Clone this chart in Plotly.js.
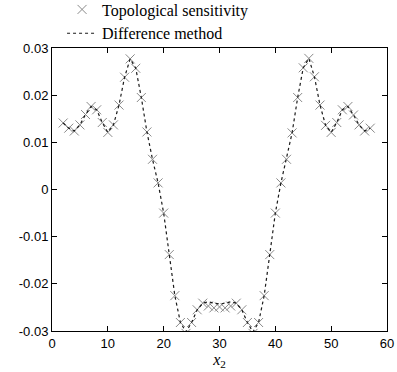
<!DOCTYPE html>
<html>
<head>
<meta charset="utf-8">
<script src="https://cdn.plot.ly/plotly-3.0.1.min.js"></script>
<style>html,body{margin:0;padding:0;background:#fff;}#chart{width:397px;height:372px;}</style>
</head>
<body>
<div id="chart"></div>
<script>
const xValues = [2,3,4,5,6,7,8,9,10,11,12,13,14,15,16,17,18,19,20,21,22,23,24,25,26,27,28,29,30,31,32,33,34,35,36,37,38,39,40,41,42,43,44,45,46,47,48,49,50,51,52,53,54,55,56,57];
const topoSensitivity = [0.0141,0.0130,0.0124,0.0137,0.0159,0.0176,0.0169,0.0142,0.0121,0.0137,0.0179,0.0238,0.0277,0.0257,0.0195,0.0122,0.0064,0.0014,-0.0050,-0.0138,-0.0225,-0.0282,-0.0305,-0.0282,-0.0255,-0.0241,-0.0247,-0.0251,-0.0249,-0.0251,-0.0247,-0.0241,-0.0255,-0.0282,-0.0305,-0.0282,-0.0225,-0.0138,-0.0050,0.0014,0.0064,0.0120,0.0195,0.0258,0.0278,0.0239,0.0179,0.0136,0.0121,0.0142,0.0169,0.0176,0.0158,0.0137,0.0124,0.0130];
const differenceMethod = [0.0141,0.0130,0.0124,0.0137,0.0159,0.0176,0.0169,0.0142,0.0121,0.0137,0.0179,0.0238,0.0277,0.0257,0.0195,0.0122,0.0064,0.0014,-0.0050,-0.0138,-0.0225,-0.0282,-0.0302,-0.0282,-0.0255,-0.0241,-0.0238,-0.0241,-0.0243,-0.0241,-0.0238,-0.0241,-0.0255,-0.0282,-0.0302,-0.0282,-0.0225,-0.0138,-0.0050,0.0014,0.0064,0.0120,0.0195,0.0258,0.0278,0.0239,0.0179,0.0136,0.0121,0.0142,0.0169,0.0176,0.0158,0.0137,0.0124,0.0130];
const xTicks = [0,10,20,30,40,50,60];
const xTickText = ["0","10","20","30","40","50","60"];
const yTicks = [-0.03,-0.02,-0.01,0,0.01,0.02,0.03];
const yTickText = ["-0.03","-0.02","-0.01","0","0.01","0.02","0.03"];

const traces = [
  {x: xValues, y: topoSensitivity, type: 'scatter', mode: 'markers', name: 'Topological sensitivity',
   marker: {symbol: 'x-thin-open', size: 9, color: '#8a8a8a', line: {width: 1, color: '#8a8a8a'}}},
  {x: xValues, y: differenceMethod, type: 'scatter', mode: 'lines', name: 'Difference method',
   line: {color: '#1a1a1a', width: 1.2, dash: 'dot'}}
];
const axisCommon = {showline: true, mirror: 'ticks', linecolor: '#000', linewidth: 1,
  ticks: 'inside', ticklen: 5, tickcolor: '#000', showgrid: false, zeroline: false,
  tickfont: {family: 'Liberation Sans, Arial, sans-serif', size: 13, color: '#000'}};
const layout = {
  width: 397, height: 372,
  margin: {l: 52, r: 10, t: 48, b: 41, autoexpand: false},
  paper_bgcolor: '#fff', plot_bgcolor: '#fff',
  showlegend: true,
  legend: {x: 0.03, y: 1.196, xanchor: 'left', yanchor: 'top', bgcolor: 'rgba(0,0,0,0)',
    font: {family: 'Liberation Serif, Times New Roman, serif', size: 16, color: '#000'},
    tracegroupgap: 0, itemwidth: 30},
  xaxis: Object.assign({}, axisCommon, {range: [0, 60], tickmode: 'array', tickvals: xTicks, ticktext: xTickText,
    title: {text: '<i>x</i><sub>2</sub>', standoff: 0, font: {family: 'Liberation Serif, serif', size: 16, color: '#000'}}}),
  yaxis: Object.assign({}, axisCommon, {range: [-0.03, 0.03], tickmode: 'array', tickvals: yTicks, ticktext: yTickText})
};
Plotly.newPlot('chart', traces, layout, {displayModeBar: false, staticPlot: true});
</script>
</body>
</html>
